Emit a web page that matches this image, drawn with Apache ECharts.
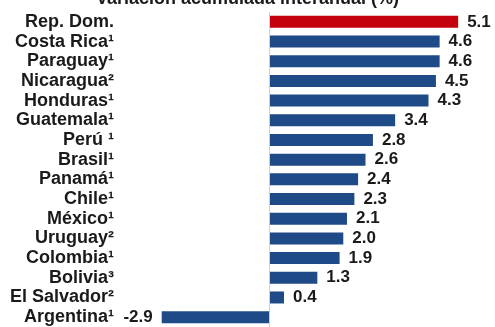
<!DOCTYPE html>
<html>
<head>
<meta charset="utf-8">
<style>
  html, body { margin: 0; padding: 0; background: #ffffff; }
  #chart { width: 495px; height: 327px; }
</style>
<script src="https://cdn.jsdelivr.net/npm/echarts@6/dist/echarts.min.js"></script>
</head>
<body>
<div id="chart"></div>
<script>
// Year-on-year cumulative change by country (%)
const countries = [
  'Rep. Dom.', 'Costa Rica¹', 'Paraguay¹', 'Nicaragua²', 'Honduras¹',
  'Guatemala¹', 'Perú ¹', 'Brasil¹', 'Panamá¹', 'Chile¹', 'México¹',
  'Uruguay²', 'Colombia¹', 'Bolivia³', 'El Salvador²', 'Argentina¹'
];
const variation = [5.1, 4.6, 4.6, 4.5, 4.3, 3.4, 2.8, 2.6, 2.4, 2.3, 2.1, 2.0, 1.9, 1.3, 0.4, -2.9];
const highlighted = 'Rep. Dom.';

const RED = '#C3000B';
const BLUE = '#1E4A87';
const INK = '#1a1a1a';
const FONT = 'Liberation Sans, Arial, sans-serif';

const chart = echarts.init(document.getElementById('chart'), null, { renderer: 'canvas' });

chart.setOption({
  animation: false,
  backgroundColor: '#ffffff',
  title: {
    text: 'Variación acumulada interanual (%)',
    left: 'center',
    top: -15,
    textStyle: { fontFamily: FONT, fontSize: 18, fontWeight: 'bold', color: INK }
  },
  grid: { left: 158, top: 12, width: 333.5, height: 316, containLabel: false },
  xAxis: {
    type: 'value',
    min: -3,
    max: 6,
    show: false
  },
  yAxis: {
    type: 'category',
    data: countries,
    inverse: true,
    axisLine: { show: false },
    axisTick: { show: false },
    splitLine: { show: false },
    axisLabel: {
      interval: 0,
      hideOverlap: false,
      margin: 44,
      fontFamily: FONT,
      fontSize: 18,
      fontWeight: 'bold',
      color: INK
    }
  },
  series: [{
    type: 'bar',
    barWidth: 12,
    data: variation.map((v, i) => ({
      value: v,
      itemStyle: { color: countries[i] === highlighted ? RED : BLUE },
      label: { position: v < 0 ? 'left' : 'right' }
    })),
    label: {
      show: true,
      distance: 9,
      fontFamily: FONT,
      fontSize: 17,
      fontWeight: 'bold',
      color: INK,
      formatter: p => p.value.toFixed(1)
    },
    markLine: {
      silent: true,
      symbol: 'none',
      label: { show: false },
      lineStyle: { color: '#cfcfcf', width: 1, type: 'solid' },
      data: [{ xAxis: 0 }]
    }
  }]
});
</script>
</body>
</html>
